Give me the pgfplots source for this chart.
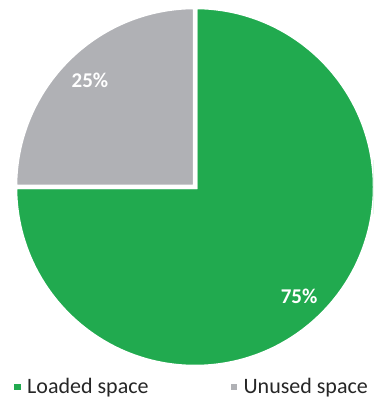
\documentclass[border=0pt]{standalone}
\usepackage{pgfplots}
\usepackage{pgfplotstable}
\pgfplotsset{compat=1.18}
\usetikzlibrary{calc}
\usepackage{fontspec}
\setmainfont{Carlito}
\definecolor{loaded}{RGB}{33,170,79}
\definecolor{unused}{RGB}{176,177,181}
\definecolor{legtext}{RGB}{38,38,38}
\pgfplotstableread{
label value
Loaded 75
Unused 25
}\piedata
\pgfplotstablegetelem{0}{value}\of\piedata\pgfmathsetmacro\va{\pgfplotsretval}
\pgfplotstablegetelem{1}{value}\of\piedata\pgfmathsetmacro\vb{\pgfplotsretval}
\pgfmathsetmacro\tot{\va+\vb}
\pgfmathsetmacro\aA{90}
\pgfmathsetmacro\aB{90-360*(\va/\tot)}
\pgfmathsetmacro\aC{\aB-360*(\vb/\tot)}
\pgfmathsetmacro\mA{(\aA+\aB)/2}
\pgfmathsetmacro\mB{(\aB+\aC)/2}
\pgfmathtruncatemacro\pA{round(100*(\va/\tot))}
\pgfmathtruncatemacro\pB{round(100*(\vb/\tot))}
\begin{document}
\begin{tikzpicture}
\begin{axis}[
  x=1pt, y=1pt, xmin=0, xmax=373, ymin=0, ymax=398,
  enlargelimits=false,
  hide axis,
  legend columns=2,
  legend cell align=left,
  legend style={at={(axis cs:11,-1.5)}, anchor=south west, draw=none, fill=none,
    font=\fontsize{22}{26}\selectfont, text=legtext,
    /tikz/every even column/.append style={column sep=80pt}},
  legend image code/.code={\path[draw=none,fill=none] (0pt,0pt) -- (11pt,0pt);\fill[#1, draw=none] (0pt,-3.5pt) rectangle (6.5pt,3pt);},
]
\addlegendimage{fill=loaded}
\addlegendentry{Loaded space}
\addlegendimage{fill=unused}
\addlegendentry{Unused space}
\fill[loaded, draw=white, line width=4.5pt] (axis cs:195,211) -- ++(\aA:180pt) arc[start angle=\aA, end angle=\aB, radius=180pt] -- cycle;
\fill[unused, draw=white, line width=4.5pt] (axis cs:195,211) -- ++(\aB:180pt) arc[start angle=\aB, end angle=\aC, radius=180pt] -- cycle;
\node[white, font=\bfseries\fontsize{21}{25}\selectfont] at ($(axis cs:193,208)+(\mA:150pt)$) {\pA\%};
\node[white, font=\bfseries\fontsize{21}{25}\selectfont] at ($(axis cs:196,212)+(\mB:150pt)$) {\pB\%};
\end{axis}
\pgfresetboundingbox
\path[use as bounding box] (current axis.south west) rectangle (current axis.north east);
\end{tikzpicture}
\end{document}
